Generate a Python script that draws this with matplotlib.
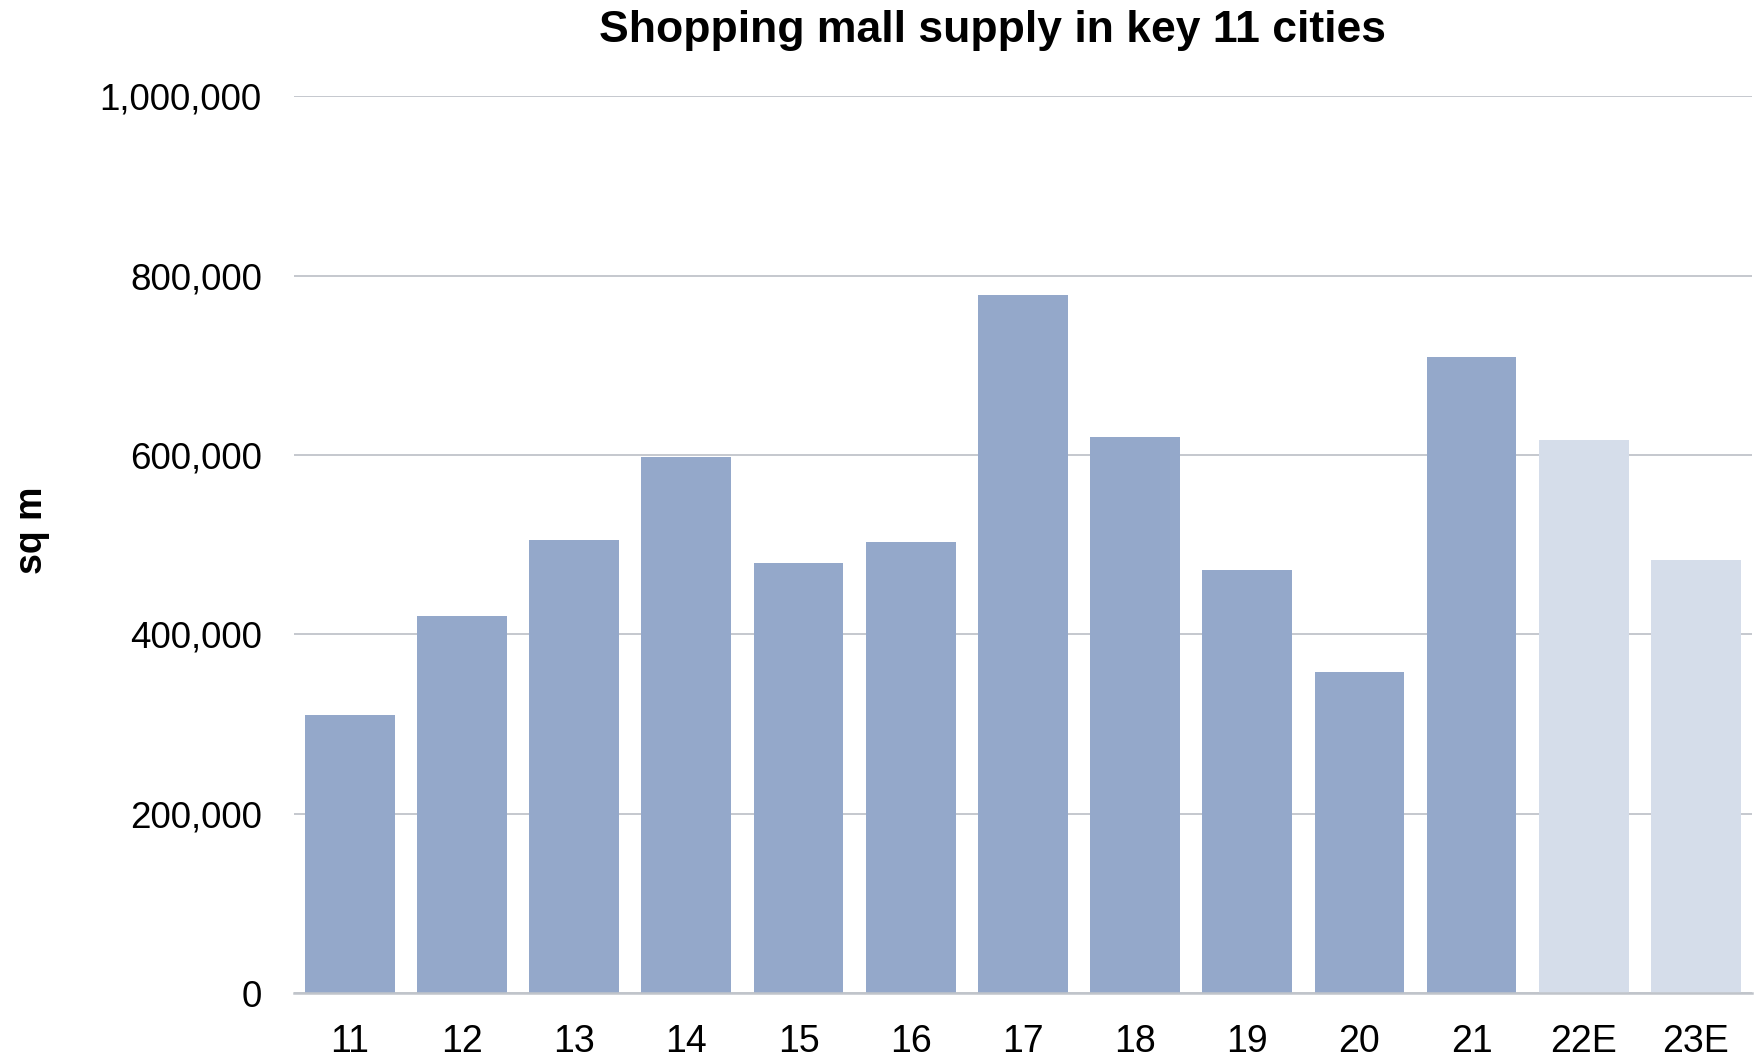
import matplotlib.pyplot as plt
from matplotlib.ticker import FuncFormatter

plt.rcParams['font.family'] = ['Liberation Sans', 'DejaVu Sans']

years = ["11", "12", "13", "14", "15", "16", "17", "18", "19", "20", "21", "22E", "23E"]
supply = [310000, 420000, 505000, 598000, 479000, 503000, 778000,
          620000, 472000, 358000, 709000, 617000, 483000]
actual_color = "#94A8CA"
estimate_color = "#D5DDEA"
colors = [estimate_color if y.endswith("E") else actual_color for y in years]

fig = plt.figure(figsize=(17.59, 10.57), dpi=100)
ax = fig.add_axes([0.167, 0.0605, 0.829, 0.8485])

ax.bar(range(len(years)), supply, width=0.8, color=colors, zorder=2)

ax.set_xlim(-0.5, len(years) - 0.5)
ax.set_ylim(0, 1000000)
ax.set_yticks(range(0, 1000001, 200000))
ax.yaxis.set_major_formatter(FuncFormatter(lambda v, p: f"{int(v):,}"))
ax.set_xticks(range(len(years)))
ax.set_xticklabels(years)

ax.grid(axis="y", color="#C0C4CA", linewidth=1.3, zorder=0)
for side in ["top", "right", "left"]:
    ax.spines[side].set_visible(False)
ax.spines["bottom"].set_color("#C0C4CA")
ax.spines["bottom"].set_linewidth(1.8)
ax.tick_params(axis="x", length=0, pad=22, labelsize=27)
ax.tick_params(axis="y", length=0, pad=23, labelsize=26.5)

fig.text(0.564, 0.971, "Shopping mall supply in key 11 cities", ha="center", va="center",
         fontsize=32, fontweight="bold")
fig.text(0.018, 0.498, "sq m", rotation=90, ha="center", va="center",
         fontsize=27, fontweight="bold")

fig.savefig("out.png", dpi=100)
